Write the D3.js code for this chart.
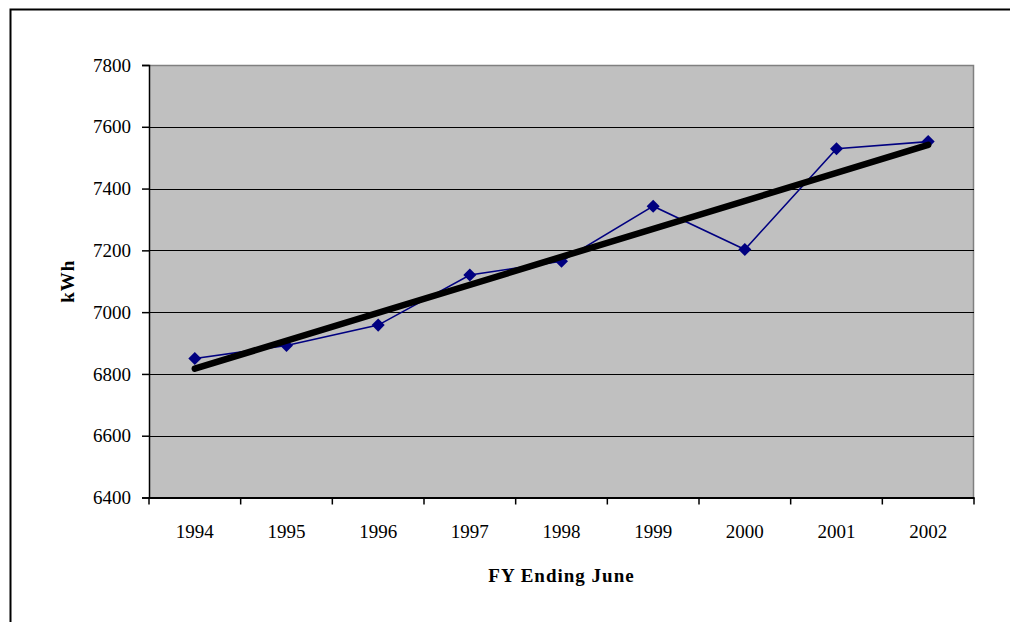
<!DOCTYPE html>
<html>
<head>
<meta charset="utf-8">
<script src="https://cdn.jsdelivr.net/npm/d3@7"></script>
<style>
  html, body { margin: 0; padding: 0; background: #fff; }
  svg { display: block; }
  text { font-family: "Liberation Serif", "DejaVu Serif", serif; fill: #000; }
</style>
</head>
<body>
<svg id="chart" width="1010" height="622"></svg>
<script>
// Annual electricity use (kWh), fiscal years ending June
const years = ["1994", "1995", "1996", "1997", "1998", "1999", "2000", "2001", "2002"];
const kwh = [6850, 6892, 6958, 7120, 7165, 7343, 7203, 7529, 7552];
const yTicks = [6400, 6600, 6800, 7000, 7200, 7400, 7600, 7800];

const svg = d3.select("#chart");
const W = 1010, H = 622;
const plot = { left: 149, top: 65, right: 974, bottom: 497.5 };

// chart-area frame (runs past the right/bottom edges)
svg.append("rect")
  .attr("x", 10.5).attr("y", 9.5)
  .attr("width", W + 20).attr("height", H + 20)
  .attr("fill", "#fff").attr("stroke", "#000").attr("stroke-width", 2);

const x = d3.scaleBand().domain(years).range([plot.left, plot.right]).padding(0);
const y = d3.scaleLinear().domain([6400, 7800]).range([plot.bottom, plot.top]);

// plot area background
svg.append("rect")
  .attr("x", plot.left).attr("y", plot.top)
  .attr("width", plot.right - plot.left).attr("height", plot.bottom - plot.top)
  .attr("fill", "#c0c0c0");
// grey top/right border of the plot area
svg.append("path")
  .attr("d", `M${plot.left},${plot.top + 0.5}H${plot.right - 0.5}V${plot.bottom}`)
  .attr("fill", "none").attr("stroke", "#808080").attr("stroke-width", 1.5);

// horizontal gridlines
svg.append("g").selectAll("line")
  .data(yTicks.filter(t => t !== 6400 && t !== 7800))
  .join("line")
  .attr("x1", plot.left).attr("x2", plot.right)
  .attr("y1", d => Math.round(y(d)) + 0.5).attr("y2", d => Math.round(y(d)) + 0.5)
  .attr("stroke", "#000").attr("stroke-width", 1.2);

// y axis
const yAxis = svg.append("g")
  .attr("transform", `translate(${plot.left},0)`)
  .call(d3.axisLeft(y).tickValues(yTicks).tickSize(7).tickPadding(11).tickFormat(d3.format("d")));
yAxis.select(".domain").attr("stroke", "#000").attr("stroke-width", 1.5);
yAxis.selectAll(".tick line").attr("stroke", "#000").attr("stroke-width", 1.5);
yAxis.selectAll(".tick text").style("font-size", "19px").attr("fill", "#000")
  .style("font-family", '"Liberation Serif", serif');

// x axis: ticks sit on the category boundaries
const xAxis = svg.append("g")
  .attr("transform", `translate(0,${plot.bottom})`)
  .call(d3.axisBottom(x).tickSize(0).tickPadding(27));
xAxis.select(".domain").attr("stroke", "#000").attr("stroke-width", 1.8);
xAxis.selectAll(".tick text").style("font-size", "19px").attr("fill", "#000")
  .style("font-family", '"Liberation Serif", serif');
const boundaries = years.map(d => x(d)).concat([x(years[years.length - 1]) + x.bandwidth()]);
svg.append("g").selectAll("line")
  .data(boundaries)
  .join("line")
  .attr("x1", d => d).attr("x2", d => d)
  .attr("y1", plot.bottom).attr("y2", plot.bottom + 7)
  .attr("stroke", "#000").attr("stroke-width", 1.5);

const cx = d => x(d) + x.bandwidth() / 2;

// least-squares linear trend through the yearly values
const n = kwh.length;
const mx = d3.mean(kwh, (d, i) => i), my = d3.mean(kwh);
const slope = d3.sum(kwh, (d, i) => (i - mx) * (d - my)) / d3.sum(kwh, (d, i) => (i - mx) ** 2);
const intercept = my - slope * mx;
const trend = [0, n - 1].map(i => ({ year: years[i], v: intercept + slope * i }));

// data series line
const line = d3.line().x((d, i) => cx(years[i])).y(d => y(d));
svg.append("path")
  .datum(kwh)
  .attr("d", line)
  .attr("fill", "none").attr("stroke", "#000080").attr("stroke-width", 1.6);

// diamond markers (squares turned 45 degrees)
svg.append("g").selectAll("path")
  .data(kwh)
  .join("path")
  .attr("d", d3.symbol().type(d3.symbolSquare).size(85))
  .attr("transform", (d, i) => `translate(${cx(years[i])},${y(d)}) rotate(45)`)
  .attr("fill", "#000080");

// trend line drawn on top
svg.append("path")
  .datum(trend)
  .attr("d", d3.line().x(d => cx(d.year)).y(d => y(d.v)))
  .attr("fill", "none").attr("stroke", "#000").attr("stroke-width", 6.5).attr("stroke-linecap", "round");

// axis titles
svg.append("text")
  .attr("transform", `translate(74,${(plot.top + plot.bottom) / 2}) rotate(-90)`)
  .attr("text-anchor", "middle")
  .style("font-size", "19px").style("font-weight", "bold").style("letter-spacing", "1px")
  .text("kWh");
svg.append("text")
  .attr("x", (plot.left + plot.right) / 2).attr("y", 582)
  .attr("text-anchor", "middle")
  .style("font-size", "19px").style("font-weight", "bold").style("letter-spacing", "1px")
  .text("FY Ending June");
</script>
</body>
</html>
